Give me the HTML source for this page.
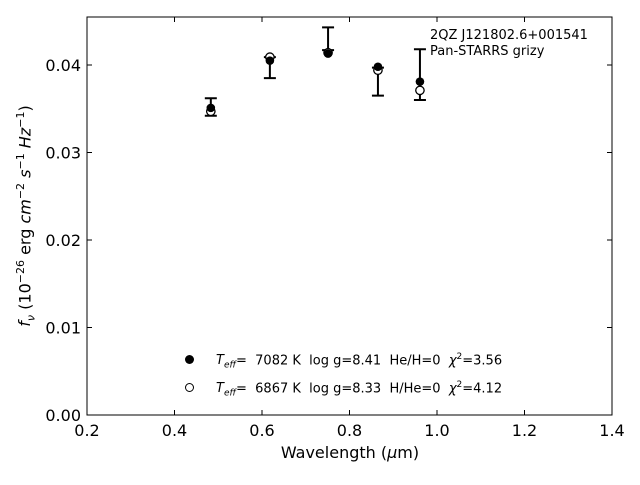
<!DOCTYPE html>
<html><head><meta charset="utf-8"><style>
body{margin:0;background:#fff;}
svg{font-family:"DejaVu Sans","Liberation Sans",sans-serif;}
</style></head><body>
<svg id="c" width="640" height="480" viewBox="0 0 640 480"></svg>
<script>
const wavelengths=[0.483,0.618,0.751,0.865,0.961];
const obsFlux=[0.0352,0.0397,0.0430,0.0381,0.0389];
const obsErr=[0.0010,0.0012,0.0013,0.0016,0.0029];
const modelHe=[0.0351,0.0405,0.0413,0.0398,0.0381];
const modelH=[0.0347,0.0409,0.0414,0.0394,0.0371];
const xTicks=[0.2,0.4,0.6,0.8,1.0,1.2,1.4];
const xTickLabels=["0.2","0.4","0.6","0.8","1.0","1.2","1.4"];
const yTicks=[0,0.01,0.02,0.03,0.04];
const yTickLabels=["0.00","0.01","0.02","0.03","0.04"];
const L=87,R=612,T=17,B=415;
const X=v=>L+(v-0.2)/1.2*(R-L);
const Y=v=>B-v*8750;
const NS="http://www.w3.org/2000/svg";
const svg=document.getElementById('c');
function mk(tag,attrs,parent){const e=document.createElementNS(NS,tag);for(const k in attrs)e.setAttribute(k,attrs[k]);(parent||svg).appendChild(e);return e;}
const frame=mk('rect',{x:L,y:T,width:R-L,height:B-T,fill:'none',stroke:'#000','stroke-width':1});


xTicks.forEach((t,i)=>{
  const x=X(t);
  const g=mk('g',{});
  
  
  mk('line',{x1:x,x2:x,y1:B,y2:B-5,stroke:'#000'},g);
  mk('line',{x1:x,x2:x,y1:T,y2:T+5,stroke:'#000'},g);
  const tx=mk('text',{x:x,y:B+21,'text-anchor':'middle','font-size':16},g);tx.textContent=xTickLabels[i];
});
yTicks.forEach((t,i)=>{
  const y=Y(t);
  const g=mk('g',{});
  
  
  mk('line',{x1:L,x2:L+5,y1:y,y2:y,stroke:'#000'},g);
  mk('line',{x1:R,x2:R-5,y1:y,y2:y,stroke:'#000'},g);
  const tx=mk('text',{x:L-6,y:y+6,'text-anchor':'end','font-size':16},g);tx.textContent=yTickLabels[i];
});
wavelengths.forEach((w,i)=>{
  const x=X(w),y1=Y(obsFlux[i]+obsErr[i]),y2=Y(obsFlux[i]-obsErr[i]);
  const g=mk('g',{});
  
  
  mk('line',{x1:x,x2:x,y1:y1,y2:y2,stroke:'#000','stroke-width':2},g);
  mk('line',{x1:x-6,x2:x+6,y1:y1,y2:y1,stroke:'#000','stroke-width':2},g);
  mk('line',{x1:x-6,x2:x+6,y1:y2,y2:y2,stroke:'#000','stroke-width':2},g);
});
wavelengths.forEach((w,i)=>{
  const c=mk('circle',{cx:X(w),cy:Y(modelH[i]),r:4.2,fill:'#fff',stroke:'#000','stroke-width':1.3});
  
  
});
wavelengths.forEach((w,i)=>{
  const c=mk('circle',{cx:X(w),cy:Y(modelHe[i]),r:4.3,fill:'#000'});
  
  
});
</script>
<div style="position:absolute;left:0;top:0;width:640px;height:480px;pointer-events:none;font-family:'DejaVu Sans','Liberation Sans',sans-serif;">
  <div style="position:absolute;left:0;width:700px;top:443px;text-align:center;font-size:16px;">Wavelength (<i>μ</i>m)</div>
  <div style="position:absolute;left:26px;top:216px;transform:translate(-50%,-50%) rotate(-90deg);white-space:nowrap;font-size:16px;"><i>f<sub style="font-size:11px">ν</sub></i> (10<sup style="font-size:11px">−26</sup> erg <i>cm</i><sup style="font-size:11px">−2</sup> <i>s</i><sup style="font-size:11px">−1</sup> <i>Hz</i><sup style="font-size:11px">−1</sup>)</div>
  <div style="position:absolute;left:430px;top:28px;font-size:13px;line-height:16px;">2QZ J121802.6+001541<br>Pan-STARRS grizy</div>
  <div style="position:absolute;left:182px;top:352px;font-size:13px;">
    <div style="position:absolute;top:0;white-space:nowrap;"><span style="display:inline-block;width:9px;height:9px;border-radius:50%;background:#000;margin:0 22px 0 3px;"></span><i>T<sub style="font-size:9px">eff</sub></i>=&nbsp; 7082 K&nbsp; log g=8.41&nbsp; He/H=0&nbsp; <i>χ</i><sup style="font-size:9px">2</sup>=3.56</div>
    <div style="position:absolute;top:28px;white-space:nowrap;"><span style="display:inline-block;width:7px;height:7px;border-radius:50%;border:1.3px solid #000;margin:0 22px 0 3px;"></span><i>T<sub style="font-size:9px">eff</sub></i>=&nbsp; 6867 K&nbsp; log g=8.33&nbsp; H/He=0&nbsp; <i>χ</i><sup style="font-size:9px">2</sup>=4.12</div>
  </div>
</div>
</body></html>
